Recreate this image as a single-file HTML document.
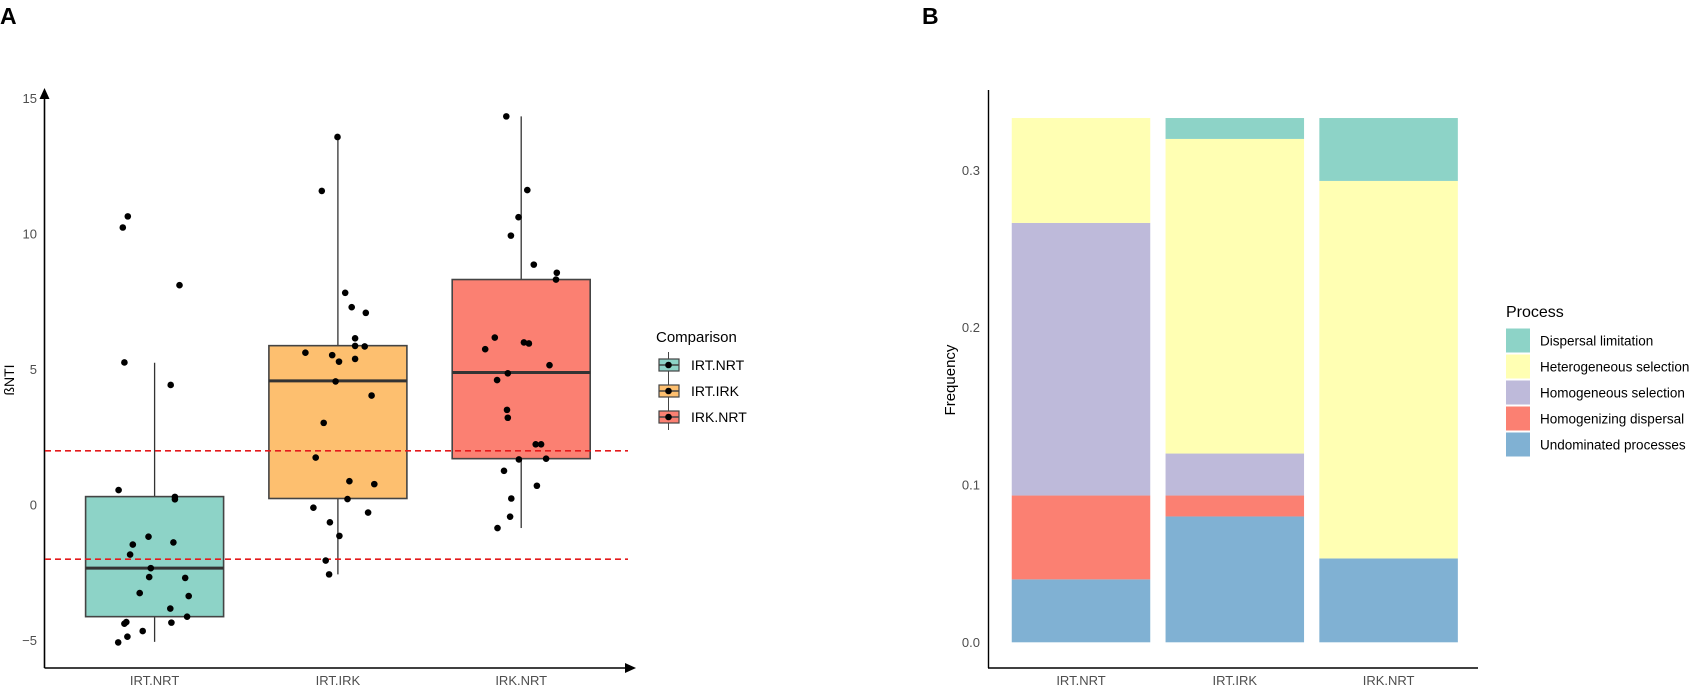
<!DOCTYPE html>
<html><head><meta charset="utf-8">
<style>
html,body{margin:0;padding:0;background:#fff;}
svg{display:block;font-family:"Liberation Sans",Arial,sans-serif;}
</style></head>
<body>
<svg id="chart" width="1689" height="690" viewBox="0 0 1689 690">
<text x="0" y="24" font-size="23" font-weight="bold">A</text>
<text x="922" y="24" font-size="23" font-weight="bold">B</text>
<g id="pa"></g>
<g id="pb"></g>
</svg>
<script>
// ---- Panel A data ----
const boxCats = ["IRT.NRT","IRT.IRK","IRK.NRT"];
const boxColors = ["#8dd3c7","#fdbf6f","#fb8072"];
const boxQ1 = [-4.12, 0.24, 1.71];
const boxMedian = [-2.33, 4.58, 4.89];
const boxQ3 = [0.31, 5.88, 8.32];
const whiskerLow = [-5.05, -2.56, -0.85];
const whiskerHigh = [5.25, 13.58, 14.34];
const yTicksA = [-5, 0, 5, 10, 15];
const thresholds = [2, -2];
const pts1 = [10.65,10.24,8.11,5.26,4.43,0.55,0.30,0.21,-1.17,-1.38,-1.46,-1.83,-2.33,-2.66,-2.69,-3.25,-3.36,-3.82,-4.12,-4.32,-4.38,-4.34,-4.65,-4.86,-5.07];
const jit1 = [-26.8,-31.8,24.9,-30.2,16.1,-36,20.3,20.3,-6.1,18.8,-21.8,-24.5,-3.8,-5.4,30.6,-14.9,34.1,15.7,32.5,-28.3,-30.2,16.8,-11.9,-27.2,-36.4];
const pts2 = [13.58,11.59,7.83,7.30,7.09,6.15,5.87,5.85,5.62,5.53,5.29,5.39,4.56,4.04,3.03,1.75,0.88,0.77,0.22,-0.10,-0.28,-0.64,-1.14,-2.05,-2.56];
const jit2 = [-0.4,-16.1,7.3,13.8,27.9,17.2,17.2,26.8,-32.5,-5.7,1.1,17.2,-2.3,33.7,-14.2,-22.2,11.5,36.4,9.6,-24.5,30.2,-8.0,1.5,-12.2,-8.8];
const pts3 = [14.34,11.62,10.62,9.94,8.87,8.57,8.32,6.18,6.00,5.96,5.75,5.16,4.86,4.61,3.51,3.22,2.24,2.24,1.68,1.71,1.26,0.71,0.24,-0.43,-0.85];
const jit3 = [-14.9,6.1,-2.7,-10.3,12.6,35.6,34.8,-26.4,2.7,7.7,-36,28.3,-13.4,-24.1,-14.2,-13.4,14.5,19.9,-2.3,24.9,-17.2,15.7,-9.9,-11.1,-23.7];
const ptsAll = [pts1, pts2, pts3];
const jitAll = [jit1, jit2, jit3];

// ---- Panel B data ----
const barCats = ["IRT.NRT","IRT.IRK","IRK.NRT"];
const processes = ["Dispersal limitation","Heterogeneous selection","Homogeneous selection","Homogenizing dispersal","Undominated processes"];
const procColors = ["#8dd3c7","#ffffb3","#bebada","#fb8072","#80b1d3"];
const undominated = [0.04, 0.08, 0.0533];
const homogDispersal = [0.0533, 0.0133, 0];
const homogSelection = [0.1733, 0.0267, 0];
const heteroSelection = [0.0667, 0.2, 0.24];
const dispersalLim = [0, 0.0133, 0.04];
const yTicksB = [0.0, 0.1, 0.2, 0.3];

const NS = "http://www.w3.org/2000/svg";
function mk(parent, tag, attrs, text){
  const e = document.createElementNS(NS, tag);
  for (const k in attrs) e.setAttribute(k, attrs[k]);
  if (text !== undefined) e.textContent = text;
  parent.appendChild(e);
  return e;
}

// ===== Panel A =====
const pa = document.getElementById("pa");
const yA = v => 505 - v * 27.1;
const xA = i => 154.6 + i * 183.3;
const halfW = 69;

// axes
let e;
e = mk(pa, "line", {x1:44.5, y1:96, x2:44.5, y2:668, stroke:"#000", "stroke-width":1.6});


e = mk(pa, "polygon", {points:"44.5,88 39.5,99 49.5,99", fill:"#000"});


e = mk(pa, "line", {x1:44.5, y1:668, x2:628, y2:668, stroke:"#000", "stroke-width":1.6});


e = mk(pa, "polygon", {points:"636,668 625,663 625,673", fill:"#000"});



yTicksA.forEach(t => {
  const lab = mk(pa, "text", {x:37, y:yA(t)+4.5, "font-size":13, fill:"#4d4d4d", "text-anchor":"end"}, t < 0 ? "\u2212" + Math.abs(t) : String(t));
  
  
});
e = mk(pa, "text", {x:0, y:0, "font-size":14, fill:"#000", "text-anchor":"middle", transform:"translate(14,380) rotate(-90)"}, "ßNTI");



boxCats.forEach((c, i) => {
  const cx = xA(i);
  const lab = mk(pa, "text", {x:cx, y:685, "font-size":13, fill:"#4d4d4d", "text-anchor":"middle"}, c);
  
  
  const w1 = mk(pa, "line", {x1:cx, y1:yA(whiskerHigh[i]), x2:cx, y2:yA(boxQ3[i]), stroke:"#333", "stroke-width":1.3});
  
  
  const w2 = mk(pa, "line", {x1:cx, y1:yA(boxQ1[i]), x2:cx, y2:yA(whiskerLow[i]), stroke:"#333", "stroke-width":1.3});
  
  
  const b = mk(pa, "rect", {x:cx-halfW, y:yA(boxQ3[i]), width:halfW*2, height:yA(boxQ1[i])-yA(boxQ3[i]), fill:boxColors[i], stroke:"#444", "stroke-width":1.6});
  
  
  const m = mk(pa, "line", {x1:cx-halfW, y1:yA(boxMedian[i]), x2:cx+halfW, y2:yA(boxMedian[i]), stroke:"#333", "stroke-width":3});
  
  
});

thresholds.forEach(t => {
  const l = mk(pa, "line", {x1:45, y1:yA(t), x2:628, y2:yA(t), stroke:"#e31a1c", "stroke-width":1.6, "stroke-dasharray":"6,4"});
  
  
});

ptsAll.forEach((arr, i) => {
  arr.forEach((v, j) => {
    const p = mk(pa, "circle", {cx:xA(i)+jitAll[i][j], cy:yA(v), r:3.3, fill:"#000"});
    
    
  });
});

// legend A
e = mk(pa, "text", {x:656, y:342, "font-size":15, fill:"#000"}, "Comparison");


boxCats.forEach((c, i) => {
  const cy = 365 + i * 26;
  const g = mk(pa, "g", {});
  
  
  mk(g, "line", {x1:668.5, y1:cy-13, x2:668.5, y2:cy+13, stroke:"#444", "stroke-width":1});
  mk(g, "rect", {x:659, y:cy-6, width:20, height:12, fill:boxColors[i], stroke:"#444", "stroke-width":1.2});
  mk(g, "line", {x1:659, y1:cy, x2:679, y2:cy, stroke:"#444", "stroke-width":1.5});
  mk(g, "circle", {cx:668.5, cy:cy, r:3.3, fill:"#000"});
  mk(g, "text", {x:691, y:cy+5, "font-size":14, fill:"#000"}, c);
});

// ===== Panel B =====
const pb = document.getElementById("pb");
const yB = v => 642.3 - v * 1573;
const xB = i => 1081 + i * 153.8;
const bw = 138.5;

e = mk(pb, "line", {x1:988.5, y1:90, x2:988.5, y2:668, stroke:"#000", "stroke-width":1.4});


e = mk(pb, "line", {x1:988, y1:668, x2:1478, y2:668, stroke:"#000", "stroke-width":1.4});


yTicksB.forEach(t => {
  const lab = mk(pb, "text", {x:980, y:yB(t)+4.5, "font-size":13, fill:"#4d4d4d", "text-anchor":"end"}, t.toFixed(1));
  
  
});
e = mk(pb, "text", {x:0, y:0, "font-size":15, fill:"#000", "text-anchor":"middle", transform:"translate(955,380) rotate(-90)"}, "Frequency");



const stackOrder = [undominated, homogDispersal, homogSelection, heteroSelection, dispersalLim];
const stackColor = [procColors[4], procColors[3], procColors[2], procColors[1], procColors[0]];
const stackName = ["undominated","homogenizing-dispersal","homogeneous-selection","heterogeneous-selection","dispersal-limitation"];
barCats.forEach((c, i) => {
  const lab = mk(pb, "text", {x:xB(i), y:685, "font-size":13, fill:"#4d4d4d", "text-anchor":"middle"}, c);
  
  
  let base = 0;
  stackOrder.forEach((arr, k) => {
    const v = arr[i];
    if (v > 0) {
      const r = mk(pb, "rect", {x:xB(i)-bw/2, y:yB(base+v), width:bw, height:yB(base)-yB(base+v), fill:stackColor[k]});
      
      
    }
    base += v;
  });
});

// legend B
e = mk(pb, "text", {x:1506, y:317, "font-size":16, fill:"#000"}, "Process");


processes.forEach((p, i) => {
  const cy = 340.5 + i * 26;
  const g = mk(pb, "g", {});
  
  
  mk(g, "rect", {x:1506, y:cy-12, width:24, height:24, fill:procColors[i]});
  mk(g, "text", {x:1540, y:cy+5, "font-size":13.5, fill:"#000"}, p);
});
</script>
</body></html>
